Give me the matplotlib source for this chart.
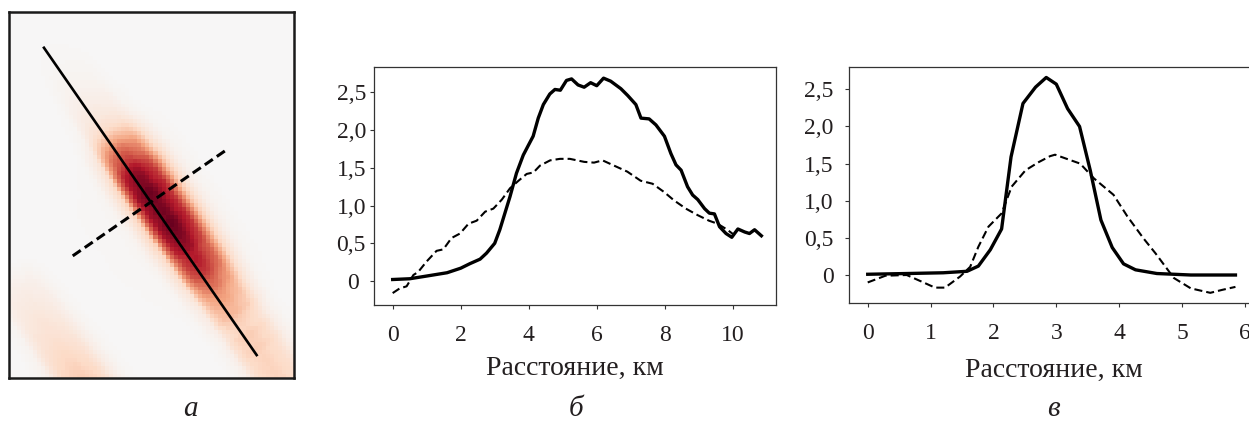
import numpy as np
import matplotlib
matplotlib.use("Agg")
import matplotlib.pyplot as plt

plt.rcParams['font.family'] = ['Liberation Serif', 'DejaVu Serif']
plt.rcParams['lines.scale_dashes'] = False

# ---- data: profile б (along the solid line) ----
b_x_solid = [0, 0.5, 1.0, 1.6, 2.0, 2.27, 2.57, 2.76, 3.0, 3.15, 3.3, 3.45, 3.64, 3.84, 3.99,
             4.13, 4.28, 4.43, 4.62, 4.77, 4.93, 5.11, 5.26, 5.45, 5.63, 5.82, 6.0, 6.2, 6.41,
             6.71, 6.91, 7.15, 7.3, 7.54, 7.74, 7.99, 8.18, 8.33, 8.48, 8.67, 8.82, 8.97, 9.17,
             9.31, 9.46, 9.61, 9.8, 9.97, 10.15, 10.35, 10.49, 10.64, 10.84]
b_y_solid = [0.02, 0.03, 0.066, 0.11, 0.17, 0.23, 0.29, 0.37, 0.50, 0.68, 0.90, 1.12, 1.43, 1.67,
             1.80, 1.92, 2.16, 2.34, 2.48, 2.54, 2.53, 2.66, 2.68, 2.60, 2.57, 2.63, 2.59, 2.69,
             2.65, 2.55, 2.46, 2.34, 2.16, 2.15, 2.07, 1.92, 1.69, 1.54, 1.47, 1.25, 1.14, 1.08,
             0.96, 0.90, 0.89, 0.72, 0.63, 0.58, 0.69, 0.65, 0.63, 0.68, 0.60]
b_x_dash = [0, 0.2, 0.41, 0.61, 0.75, 1.0, 1.29, 1.49, 1.73, 1.98, 2.23, 2.47, 2.72, 2.96, 3.21,
            3.45, 3.7, 3.94, 4.14, 4.33, 4.63, 4.92, 5.21, 5.63, 5.92, 6.17, 6.51, 6.9, 7.29,
            7.64, 7.98, 8.27, 8.62, 8.96, 9.3, 9.55, 9.84, 10.04]
b_y_dash = [-0.16, -0.10, -0.07, 0.08, 0.12, 0.26, 0.40, 0.42, 0.57, 0.63, 0.76, 0.80, 0.92, 0.96,
            1.08, 1.23, 1.33, 1.42, 1.44, 1.53, 1.60, 1.62, 1.62, 1.58, 1.57, 1.60, 1.53, 1.45,
            1.33, 1.29, 1.18, 1.07, 0.96, 0.875, 0.80, 0.76, 0.68, 0.61]

# ---- data: profile в (along the dashed line) ----
v_x_solid = [0, 0.62, 1.2, 1.58, 1.76, 1.95, 2.13, 2.28, 2.47, 2.67, 2.84, 3.0, 3.18, 3.37, 3.54,
             3.71, 3.89, 4.07, 4.26, 4.6, 5.14, 5.85]
v_y_solid = [0.01, 0.02, 0.03, 0.05, 0.12, 0.34, 0.62, 1.59, 2.31, 2.53, 2.66, 2.57, 2.24, 2.0,
             1.41, 0.74, 0.37, 0.15, 0.07, 0.02, 0.0, 0.0]
v_x_dash = [0, 0.28, 0.62, 0.86, 1.07, 1.23, 1.47, 1.63, 1.76, 1.92, 2.13, 2.29, 2.51, 2.72, 2.9,
            2.98, 3.38, 3.6, 3.91, 4.13, 4.39, 4.58, 4.87, 5.14, 5.45, 5.64, 5.85]
v_y_dash = [-0.10, -0.01, 0.0, -0.09, -0.17, -0.17, -0.02, 0.11, 0.38, 0.65, 0.83, 1.19, 1.41,
            1.52, 1.60, 1.62, 1.50, 1.30, 1.08, 0.79, 0.49, 0.29, -0.04, -0.18, -0.24, -0.20, -0.16]

# ---- map (panel а): profile lines in km, map extent in km ----
map_w, map_h = 8.21, 10.55
solid_line_x = [1.00, 7.17]
solid_line_y = [9.55, 0.63]
dash_line_x = [1.85, 6.27]
dash_line_y = [3.52, 6.57]
# weaker parallel band (lower-left), offset across the ridge
band_offset = -4.7
band_s = [4.5, 5.5, 7.0, 8.5, 10.0]
band_v = [0.0, 0.2, 0.4, 0.7, 0.8]

y_ticks = [0, 0.5, 1.0, 1.5, 2.0, 2.5]
y_ticklabels_b = ['0 ', '0,5', '1,0', '1,5', '2,0', '2,5']
y_ticklabels_v = ['0', '0,5', '1,0', '1,5', '2,0', '2,5']
b_xticks = [0, 2, 4, 6, 8, 10]
v_xticks = [0, 1, 2, 3, 4, 5, 6]
xlabel = 'Расстояние, км'
panel_labels = ['а', 'б', 'в']

# ---- build map field from the two solid profiles ----
nx, ny = 71, 92
xc = (np.arange(nx) + 0.5) * map_w / nx
yc = (np.arange(ny) + 0.5) * map_h / ny
X, Y = np.meshgrid(xc, yc)
S0 = np.array([solid_line_x[0], solid_line_y[0]])
u = np.array([solid_line_x[1] - solid_line_x[0], solid_line_y[1] - solid_line_y[0]])
u = u / np.linalg.norm(u)
n = np.array([-u[1], u[0]])  # perpendicular, pointing toward the dashed line's end
D0 = np.array([dash_line_x[0], dash_line_y[0]])
t_start = np.dot(D0 - S0, n)
s = (X - S0[0]) * u[0] + (Y - S0[1]) * u[1]
t = (X - S0[0]) * n[0] + (Y - S0[1]) * n[1]
cmax = max(v_y_solid)


def across(tt):
    return np.interp(tt - t_start, v_x_solid, v_y_solid, left=0, right=0) / cmax


field = np.interp(s, b_x_solid, b_y_solid) * across(t)
field += np.interp(s, band_s, band_v) * across(t - band_offset)

W, H = 1249, 422
fig = plt.figure(figsize=(W / 100, H / 100), dpi=100)
txt = '#231f20'

axA = fig.add_axes([8.5 / W, (H - 378) / H, 285 / W, 366 / H])
axA.imshow(field, extent=[0, map_w, 0, map_h], origin='lower', cmap='RdBu_r',
           vmin=-2.7, vmax=2.7, interpolation='nearest', aspect='auto')
axA.plot(solid_line_x, solid_line_y, color='black', lw=1.9, solid_capstyle='butt')
axA.plot(dash_line_x, dash_line_y, color='black', lw=2.2, dashes=(7, 3.5))
axA.set_xlim(0, map_w)
axA.set_ylim(0, map_h)
axA.set_xticks([])
axA.set_yticks([])
for sp in axA.spines.values():
    sp.set_linewidth(1.8)
    sp.set_color('#1a1a1a')


def style(ax, xticks, ylabels, ypad, xlim, ylim, label_y):
    ax.set_xlim(*xlim)
    ax.set_ylim(*ylim)
    ax.set_xticks(xticks)
    ax.set_xticklabels([str(v) for v in xticks])
    ax.set_yticks(y_ticks)
    ax.set_yticklabels(ylabels)
    ax.tick_params(axis='both', direction='out', length=3, width=0.8, colors='#333333',
                   labelcolor=txt, labelsize=17)
    ax.tick_params(axis='x', pad=11.5)
    ax.tick_params(axis='y', pad=ypad)
    for sp in ax.spines.values():
        sp.set_linewidth(0.9)
        sp.set_color('#333333')
    ax.set_xlabel(xlabel, fontsize=20, color=txt)
    ax.xaxis.set_label_coords(0.5, label_y)


axB = fig.add_axes([374.3 / W, (H - 305) / H, (776 - 374.3) / W, (305 - 67.3) / H])
axB.plot(b_x_solid, b_y_solid, color='black', lw=2.4, solid_joinstyle='round')
axB.plot(b_x_dash, b_y_dash, color='black', lw=1.5, dashes=(5.8, 2.9))
style(axB, b_xticks, y_ticklabels_b, 3, (-0.54, 11.27), (-0.318, 2.834), -0.215)

axV = fig.add_axes([849.3 / W, (H - 303.3) / H, (1258.7 - 849.3) / W, (303.3 - 66.7) / H])
axV.plot(v_x_solid, v_y_solid, color='black', lw=2.4, solid_joinstyle='round')
axV.plot(v_x_dash, v_y_dash, color='black', lw=1.5, dashes=(5.8, 2.9))
style(axV, v_xticks, y_ticklabels_v, 8.4, (-0.293, 6.22), (-0.381, 2.805), -0.232)

for lab, xp in zip(panel_labels, [190, 576, 1053]):
    fig.text(xp / W, 0.5 / H, lab, ha='center', va='bottom', fontsize=21,
             style='italic', color=txt)

fig.savefig('out.png', dpi=100)
